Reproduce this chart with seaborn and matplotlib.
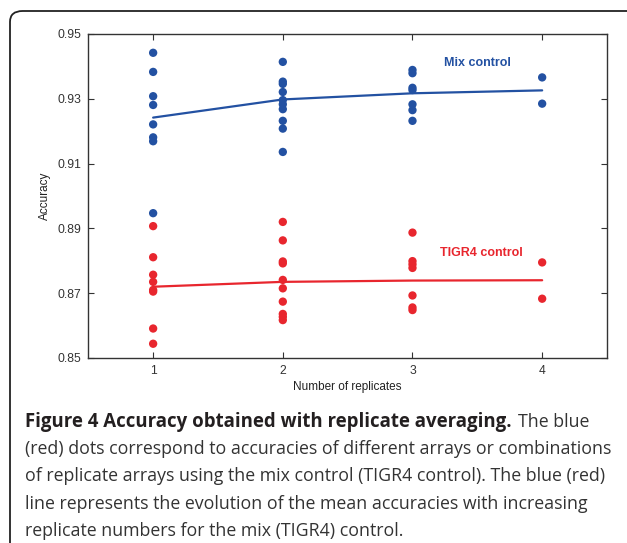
import pandas as pd
import numpy as np
import seaborn as sns
import matplotlib.pyplot as plt
from matplotlib.patches import FancyBboxPatch

sns.set_style('ticks')
plt.rcParams['font.family'] = ['Liberation Sans', 'DejaVu Sans']

# dots
mix_reps = [1]*8 + [2]*10 + [3]*7 + [4]*2
mix_acc = [0.9442, 0.9383, 0.9308, 0.9281, 0.9221, 0.9181, 0.9169, 0.8947,
           0.9414, 0.9353, 0.9346, 0.9321, 0.9296, 0.9283, 0.9268, 0.9232, 0.9208, 0.9136,
           0.9389, 0.9379, 0.9334, 0.9327, 0.9283, 0.9265, 0.9232,
           0.9366, 0.9285]
tigr_reps = [1]*8 + [2]*10 + [3]*7 + [4]*2
tigr_acc = [0.8907, 0.8811, 0.8757, 0.8735, 0.8710, 0.8705, 0.8591, 0.8544,
            0.8920, 0.8863, 0.8798, 0.8792, 0.8741, 0.8715, 0.8674, 0.8636, 0.8627, 0.8617,
            0.8887, 0.8799, 0.8789, 0.8778, 0.8693, 0.8656, 0.8648,
            0.8795, 0.8683]

# mean accuracy lines
replicates = [1, 2, 3, 4]
mix_mean = [0.9242, 0.9298, 0.9317, 0.9326]
tigr_mean = [0.8720, 0.8735, 0.8739, 0.8740]

blue = '#2351a2'
red = '#e8262e'

df_mix = pd.DataFrame({'rep': mix_reps, 'acc': mix_acc})
df_tigr = pd.DataFrame({'rep': tigr_reps, 'acc': tigr_acc})
df_line = pd.DataFrame({'rep': replicates, 'mix': mix_mean, 'tigr': tigr_mean})

fig = plt.figure(figsize=(6.27, 5.43), dpi=100)
ax = fig.add_axes([88.3/627, 1-358/543, (607-88.3)/627, (358-34)/543])

sns.lineplot(data=df_line, x='rep', y='mix', color=blue, linewidth=1.6, ax=ax)
sns.lineplot(data=df_line, x='rep', y='tigr', color=red, linewidth=1.6, ax=ax)
sns.scatterplot(data=df_mix, x='rep', y='acc', color=blue, s=36, edgecolor='none', ax=ax, zorder=3)
sns.scatterplot(data=df_tigr, x='rep', y='acc', color=red, s=36, edgecolor='none', ax=ax, zorder=3)

ax.set_xlim(0.5, 4.5)
ax.set_ylim(0.85, 0.95)
ax.set_xticks(replicates)
ax.set_yticks([0.85, 0.87, 0.89, 0.91, 0.93, 0.95])
ax.set_yticklabels(['0.85', '0.87', '0.89', '0.91', '0.93', '0.95'])
ax.tick_params(direction='in', length=4, width=0.8, colors='#333333', labelsize=8.7,
               top=True, right=True, pad=5)
for sp in ax.spines.values():
    sp.set_visible(True)
    sp.set_color('#333333')
    sp.set_linewidth(1.0)
ax.set_xlabel('Number of replicates', fontsize=8.5, color='#222222', labelpad=3)
ax.set_ylabel('Accuracy', fontsize=8.5, color='#222222', labelpad=5)

ax.text(3.5, 0.9410, 'Mix control', color=blue, fontsize=9, fontweight='bold',
        ha='center', va='center')
ax.text(3.53, 0.8823, 'TIGR4 control', color=red, fontsize=9, fontweight='bold',
        ha='center', va='center')

# caption box
box = FancyBboxPatch((10/627, -0.1), 1.2, 1 - 11/543 + 0.1, boxstyle='round,pad=0,rounding_size=0.02',
                     transform=fig.transFigure, fill=False, edgecolor='#222222', linewidth=1.3)
fig.patches.append(box)

cap_font = ['Open Sans', 'DejaVu Sans']
cap_size = 12.8
x0 = 25/627
t1 = fig.text(x0, 1-427/543, 'Figure 4 Accuracy obtained with replicate averaging.',
              family=cap_font, fontsize=13.4, fontweight='bold', va='baseline', color='#231f20')
fig.canvas.draw()
bb = t1.get_window_extent()
fig.text(bb.x1/627 + 6/627, 1-427/543, 'The blue', family=cap_font, fontsize=cap_size,
         va='baseline', color='#333333')
lines = ['(red) dots correspond to accuracies of different arrays or combinations',
         'of replicate arrays using the mix control (TIGR4 control). The blue (red)',
         'line represents the evolution of the mean accuracies with increasing',
         'replicate numbers for the mix (TIGR4) control.']
for i, ln in enumerate(lines):
    fig.text(x0, 1-(454.2 + 27.2*i)/543, ln, family=cap_font, fontsize=cap_size,
             va='baseline', color='#333333')

fig.savefig('out.png', dpi=100)
